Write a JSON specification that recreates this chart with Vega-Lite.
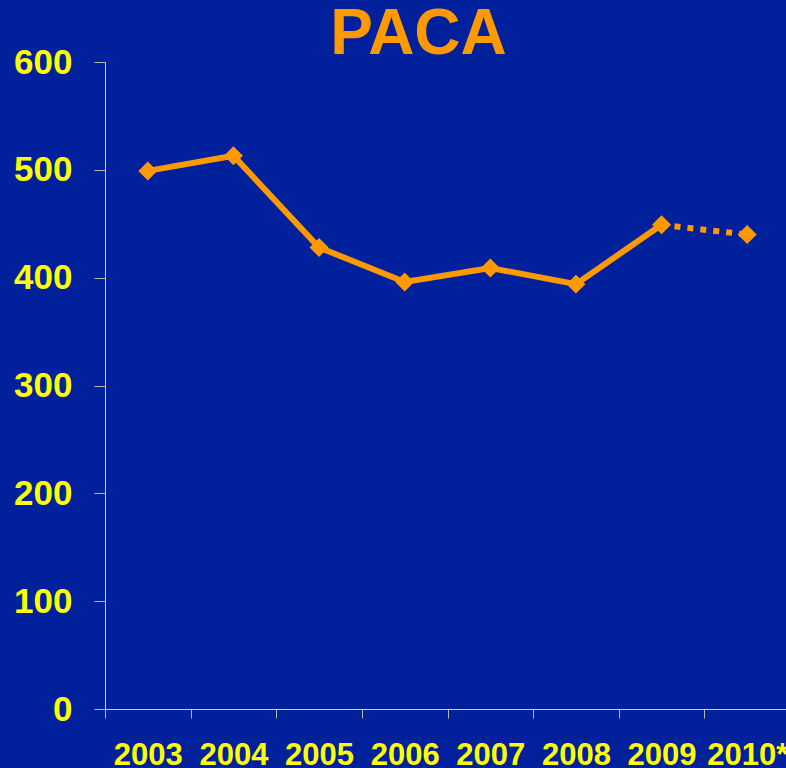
{
  "$schema": "https://vega.github.io/schema/vega-lite/v6.json",
  "width": 685,
  "height": 647,
  "autosize": {"type": "none"},
  "padding": {"left": 105, "top": 62, "right": 0, "bottom": 59},
  "background": "#00219B",
  "title": {
    "text": "PACA",
    "font": "Liberation Sans",
    "fontSize": 64,
    "fontWeight": "bold",
    "color": "#FF9900",
    "anchor": "middle",
    "offset": 4,
    "dy": 26,
    "dx": -29
  },
  "config": {
    "view": {"stroke": null},
    "axis": {"grid": false, "labelFont": "Liberation Sans", "labelFontWeight": "bold", "labelColor": "#FFFF00", "domainColor": "#D2D2B0", "tickColor": "#B8B8A8", "domainWidth": 1, "tickWidth": 1}
  },
  "data": {"values": [
    {"year": "2003", "value": 499},
    {"year": "2004", "value": 513},
    {"year": "2005", "value": 428},
    {"year": "2006", "value": 396},
    {"year": "2007", "value": 409},
    {"year": "2008", "value": 394},
    {"year": "2009", "value": 449},
    {"year": "2010*", "value": 440}
  ]},
  "encoding": {
    "x": {"field": "year", "type": "ordinal", "sort": null,
      "scale": {"paddingInner": 0, "paddingOuter": 0},
      "axis": {"title": null, "labelAngle": 0, "tickBand": "extent", "labelFontSize": 31, "tickSize": 9, "labelPadding": 22}},
    "y": {"field": "value", "type": "quantitative",
      "scale": {"domain": [0, 600], "nice": false},
      "axis": {"title": null, "values": [0, 100, 200, 300, 400, 500, 600], "labelFontSize": 35, "tickSize": 11, "labelPadding": 22}}
  },
  "layer": [
    {"transform": [{"filter": "datum.year != '2010*'"}],
     "mark": {"type": "line", "color": "#FF9900", "strokeWidth": 6}},
    {"transform": [{"filter": "datum.year == '2009' || datum.year == '2010*'"}],
     "mark": {"type": "line", "color": "#FF9900", "strokeWidth": 6, "strokeDash": [6, 7], "strokeCap": "butt"}},
    {"mark": {"type": "point", "shape": "diamond", "filled": true, "opacity": 1, "color": "#FF9900", "size": 360}}
  ]
}
